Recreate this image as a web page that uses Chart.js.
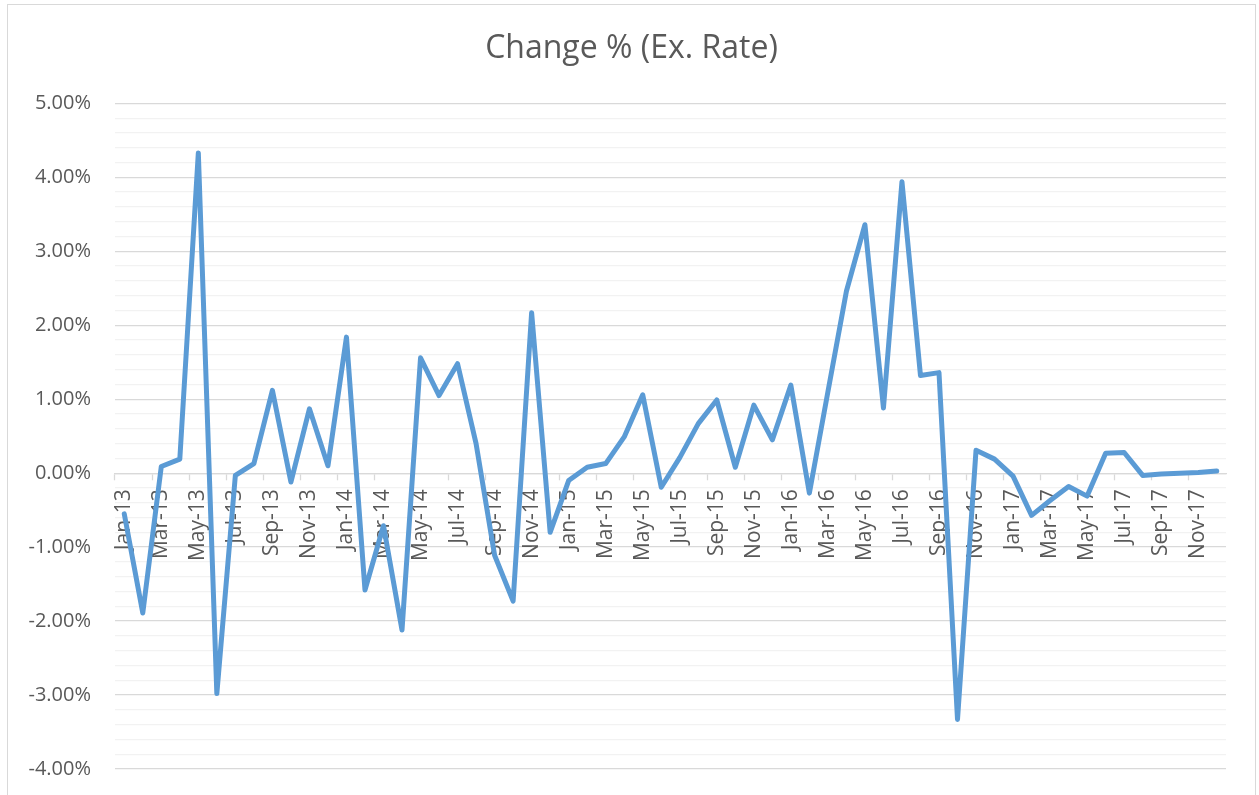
<!DOCTYPE html>
<html>
<head>
<meta charset="utf-8">
<script src="https://cdn.jsdelivr.net/npm/chart.js@4/dist/chart.umd.min.js"></script>
<style>
    html, body { margin: 0; padding: 0; background: #fff; overflow: hidden; }
    #box {
        position: absolute; left: 7px; top: 4px;
        width: 1247px; height: 820px;
        border: 1px solid #d9d9d9;
    }
</style>
</head>
<body>
<div id="box"><canvas id="bieuDo"></canvas></div>
<script>
// month labels (x axis)
const thang = [
    'Jan-13', 'Feb-13', 'Mar-13', 'Apr-13', 'May-13', 'Jun-13', 'Jul-13', 'Aug-13', 'Sep-13', 'Oct-13', 'Nov-13', 'Dec-13',
    'Jan-14', 'Feb-14', 'Mar-14', 'Apr-14', 'May-14', 'Jun-14', 'Jul-14', 'Aug-14', 'Sep-14', 'Oct-14', 'Nov-14', 'Dec-14',
    'Jan-15', 'Feb-15', 'Mar-15', 'Apr-15', 'May-15', 'Jun-15', 'Jul-15', 'Aug-15', 'Sep-15', 'Oct-15', 'Nov-15', 'Dec-15',
    'Jan-16', 'Feb-16', 'Mar-16', 'Apr-16', 'May-16', 'Jun-16', 'Jul-16', 'Aug-16', 'Sep-16', 'Oct-16', 'Nov-16', 'Dec-16',
    'Jan-17', 'Feb-17', 'Mar-17', 'Apr-17', 'May-17', 'Jun-17', 'Jul-17', 'Aug-17', 'Sep-17', 'Oct-17', 'Nov-17', 'Dec-17'
];

// monthly change of exchange rate, in %
const thayDoi = [
    -0.55, -1.89, 0.09, 0.19, 4.33, -2.98, -0.03, 0.13, 1.12, -0.12, 0.87, 0.10,
    1.84, -1.58, -0.71, -2.12, 1.56, 1.05, 1.48, 0.40, -1.11, -1.73, 2.17, -0.80,
    -0.10, 0.08, 0.13, 0.49, 1.06, -0.19, 0.21, 0.67, 0.99, 0.08, 0.92, 0.45,
    1.19, -0.27, 1.10, 2.46, 3.36, 0.88, 3.94, 1.32, 1.36, -3.33, 0.31, 0.19,
    -0.04, -0.57, -0.37, -0.18, -0.31, 0.27, 0.28, -0.03, -0.01, 0.00, 0.01, 0.03
];

const yMin = -4;
const yMax = 5;
const yStep = 0.2;   // minor gridlines; labels only on whole percents

const tieuDe = 'Change % (Ex. Rate)';
const mauChu = '#595959';
const mauDuong = '#5B9BD5';

function laSoNguyen(v) {
    return Math.abs(v - Math.round(v)) < 1e-6;
}

const data = {
    labels: thang,
    datasets: [{
            label: tieuDe,
            data: thayDoi,
            borderColor: mauDuong,
            backgroundColor: mauDuong,
            borderWidth: 5,
            borderJoinStyle: 'round',
            borderCapStyle: 'round',
            pointRadius: 0,
            pointHoverRadius: 0,
            tension: 0,
            fill: false
        }]
};

const config = {
    type: 'line',
    data: data,
    options: {
        responsive: true,
        maintainAspectRatio: false,
        animation: false,
        layout: {
            padding: {left: 0, right: 0, top: 0, bottom: 56}
        },
        plugins: {
            legend: {display: false},
            tooltip: {enabled: false},
            title: {
                display: true,
                text: tieuDe,
                color: mauChu,
                font: {family: 'Open Sans', size: 32, weight: 'normal'},
                padding: {top: 25, bottom: 35}
            }
        },
        scales: {
            x: {
                type: 'category',
                position: {y: 0},
                offset: true,
                grid: {
                    offset: true,
                    drawOnChartArea: false,
                    drawTicks: true,
                    tickLength: 6,
                    tickWidth: 1.3,
                    tickColor: ctx => (ctx.index % 2 === 0) ? '#d9d9d9' : 'rgba(0,0,0,0)'
                },
                border: {display: true, color: '#d9d9d9', width: 1.3},
                ticks: {
                    autoSkip: false,
                    minRotation: 90,
                    maxRotation: 90,
                    padding: 10,
                    color: mauChu,
                    font: {family: 'Open Sans', size: 21},
                    callback: function (v, i) {
                        return i % 2 === 0 ? thang[i] : '';
                    }
                }
            },
            y: {
                min: yMin,
                max: yMax,
                afterFit: function (scale) {
                    scale.width = 107;
                },
                border: {display: false},
                grid: {
                    drawTicks: false,
                    lineWidth: 1.3,
                    color: ctx => laSoNguyen(ctx.tick.value) ? '#d9d9d9' : '#f2f2f2'
                },
                ticks: {
                    stepSize: yStep,
                    maxTicksLimit: 100,
                    autoSkip: false,
                    padding: 24,
                    color: mauChu,
                    font: {family: 'Open Sans', size: 20},
                    callback: function (v) {
                        return laSoNguyen(v) ? Math.round(v).toFixed(2) + '%' : '';
                    }
                }
            },
            // empty right axis, only keeps the white margin on the right
            yPhai: {
                position: 'right',
                afterFit: function (scale) {
                    scale.width = 29;
                },
                border: {display: false},
                grid: {display: false},
                ticks: {display: false}
            }
        }
    }
};

let bieuDo = document.getElementById('bieuDo').getContext('2d');

new Chart(bieuDo, config);
</script>
</body>
</html>
